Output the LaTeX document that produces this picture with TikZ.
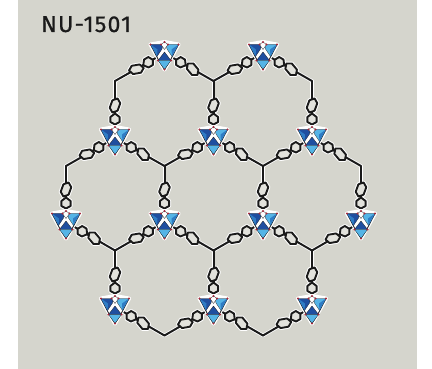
\documentclass[tikz,border=0pt]{standalone}
\usepackage{fontspec}
\setmainfont{Fira Sans}
\newfontfamily\titlefont[LetterSpace=5.5,FakeBold=0.6]{Fira Sans}
\usetikzlibrary{calc}
\definecolor{bgc}{HTML}{D5D5CD}
\definecolor{dkb}{HTML}{1F4FA0}
\definecolor{mdb}{HTML}{2F7CC4}
\definecolor{ltb}{HTML}{55B4E6}
\definecolor{redv}{HTML}{A52A3C}
\definecolor{ink}{HTML}{1A1A1A}
\tikzset{x=1pt,y=-1pt,
 halo/.style={draw=white,line width=3.6pt,line join=round,line cap=round},
 bond/.style={draw=ink,line width=2pt,line join=round,line cap=round},
 ringb/.style={draw=ink,line width=1.9pt,line join=round,fill=bgc!70!white},
 rnghalo/.style={draw=white,line width=3.9pt,line join=round,fill=white},
 tile/.style={draw=ink,line width=.25pt,line join=round},
 site/.style={circle,fill=redv,inner sep=0pt,minimum size=2.1pt},
}
\newcommand{\ringshape}[1]{\path[#1] (13.5,0)--(16,-4.6)--(21,-4.6)--(24.5,0)--(21,4.6)--(16,4.6)--cycle;
 \begin{scope}[shift={(32.5,0)},rotate=-20]
 \path[#1] (-7.5,0)--(-4,-4.2)--(4,-4.2)--(7.5,0)--(4,4.2)--(-4,4.2)--cycle;
 \end{scope}}
\newcommand{\linkerhalo}[2]{\begin{scope}[shift={(#1)},rotate=#2]\ringshape{rnghalo}\end{scope}}
\newcommand{\linker}[2]{\begin{scope}[shift={(#1)},rotate=#2]\ringshape{ringb}\end{scope}}
\newcommand{\clusterunit}[1]{\begin{scope}[shift={(#1)}]
 \path[fill=white,draw=white,line width=4pt,line join=round] (-14,-8.5)--(0,-11)--(14,-8.5)--(0,16.5)--cycle;
 \path[draw=ink,line width=.8pt,line join=round] (-14,-8.5)--(-6.5,6)--(0,16.5)--(6.5,6)--(14,-8.5);
 % left tile
 \path[tile,fill=dkb] (-14,-8.5)--(-1.5,-8.5)--(-2.5,-4)--(-7.5,3.5)--cycle;
 \path[tile,fill=mdb,draw=none] (-14,-8.5)--(-7,-3.5)--(-7.5,3.5)--cycle;
 % right tile
 \path[tile,fill=ltb] (14,-8.5)--(1.5,-8.5)--(2.5,-4)--(7.5,3.5)--cycle;
 \path[tile,fill=mdb,draw=none] (14,-8.5)--(7,-3.5)--(7.5,3.5)--cycle;
 % top white notch
 \path[tile,fill=white] (-3.5,-8.5)--(0,-11)--(3.5,-8.5)--(0,-3.5)--cycle;
 % lower pair
 \path[tile,fill=dkb] (0,-1)--(-6.5,7.5)--(6.5,7.5)--cycle;
 \path[tile,fill=ltb] (-6.5,7.5)--(6.5,7.5)--(0,16.5)--cycle;
 \foreach \p in {(-14,-8.5),(14,-8.5),(0,16.5),(-6.5,7.5),(6.5,7.5),(0,-11),(-3.5,-8.5),(3.5,-8.5)} \node[site] at \p {};
 \end{scope}}
\begin{document}
\begin{tikzpicture}
\useasboundingbox (0,0) rectangle (432,369);
\fill[bgc] (18,0) rectangle (417,369);
\node[anchor=base west,inner sep=0pt,text=ink,font=\titlefont\fontsize{23}{25}\selectfont] (title) at (41,32) {NU-1501};
% junctions
\foreach \n/\x/\y in {a1/115/81,a2/213.5/81,a3/312/81,
 b1/66/166,b2/164.5/166,b3/263/166,b4/361/166,
 c1/115/250.5,c2/213.5/250.5,c3/312/250.5,
 d1/164.5/335.5,d2/263/335.5}
 \coordinate (\n) at (\x,\y);
% clusters
\foreach \n/\x/\y in {k1/164.5/53,k2/263/53,
 l1/115/138,l2/213.5/138,l3/312/138,
 m1/66/222,m2/164.5/222,m3/263/222,m4/361/222,
 n1/115/307,n2/213.5/307,n3/312/307}
 \coordinate (\n) at (\x,\y);
\def\edges{k1/a1/210,k1/a2/330,k2/a2/210,k2/a3/330,
 l1/a1/90,l2/a2/90,l3/a3/90,
 l1/b1/210,l1/b2/330,l2/b2/210,l2/b3/330,l3/b3/210,l3/b4/330,
 m1/b1/90,m2/b2/90,m3/b3/90,m4/b4/90,
 m1/c1/330,m2/c1/210,m2/c2/330,m3/c2/210,m3/c3/330,m4/c3/210,
 n1/c1/90,n2/c2/90,n3/c3/90,
 n1/d1/330,n2/d1/210,n2/d2/330,n3/d2/210}
\foreach \a/\b/\t in \edges {\draw[halo] (\a) -- (\b);}
\foreach \a/\b/\t in \edges {\linkerhalo{\a}{\t}}
\foreach \a/\b/\t in \edges {\draw[bond] (\a) -- (\b);}
\foreach \a/\b/\t in \edges {\linker{\a}{\t}}
\foreach \k in {k1,k2,l1,l2,l3,m1,m2,m3,m4,n1,n2,n3} {\clusterunit{\k}}
\end{tikzpicture}
\end{document}
